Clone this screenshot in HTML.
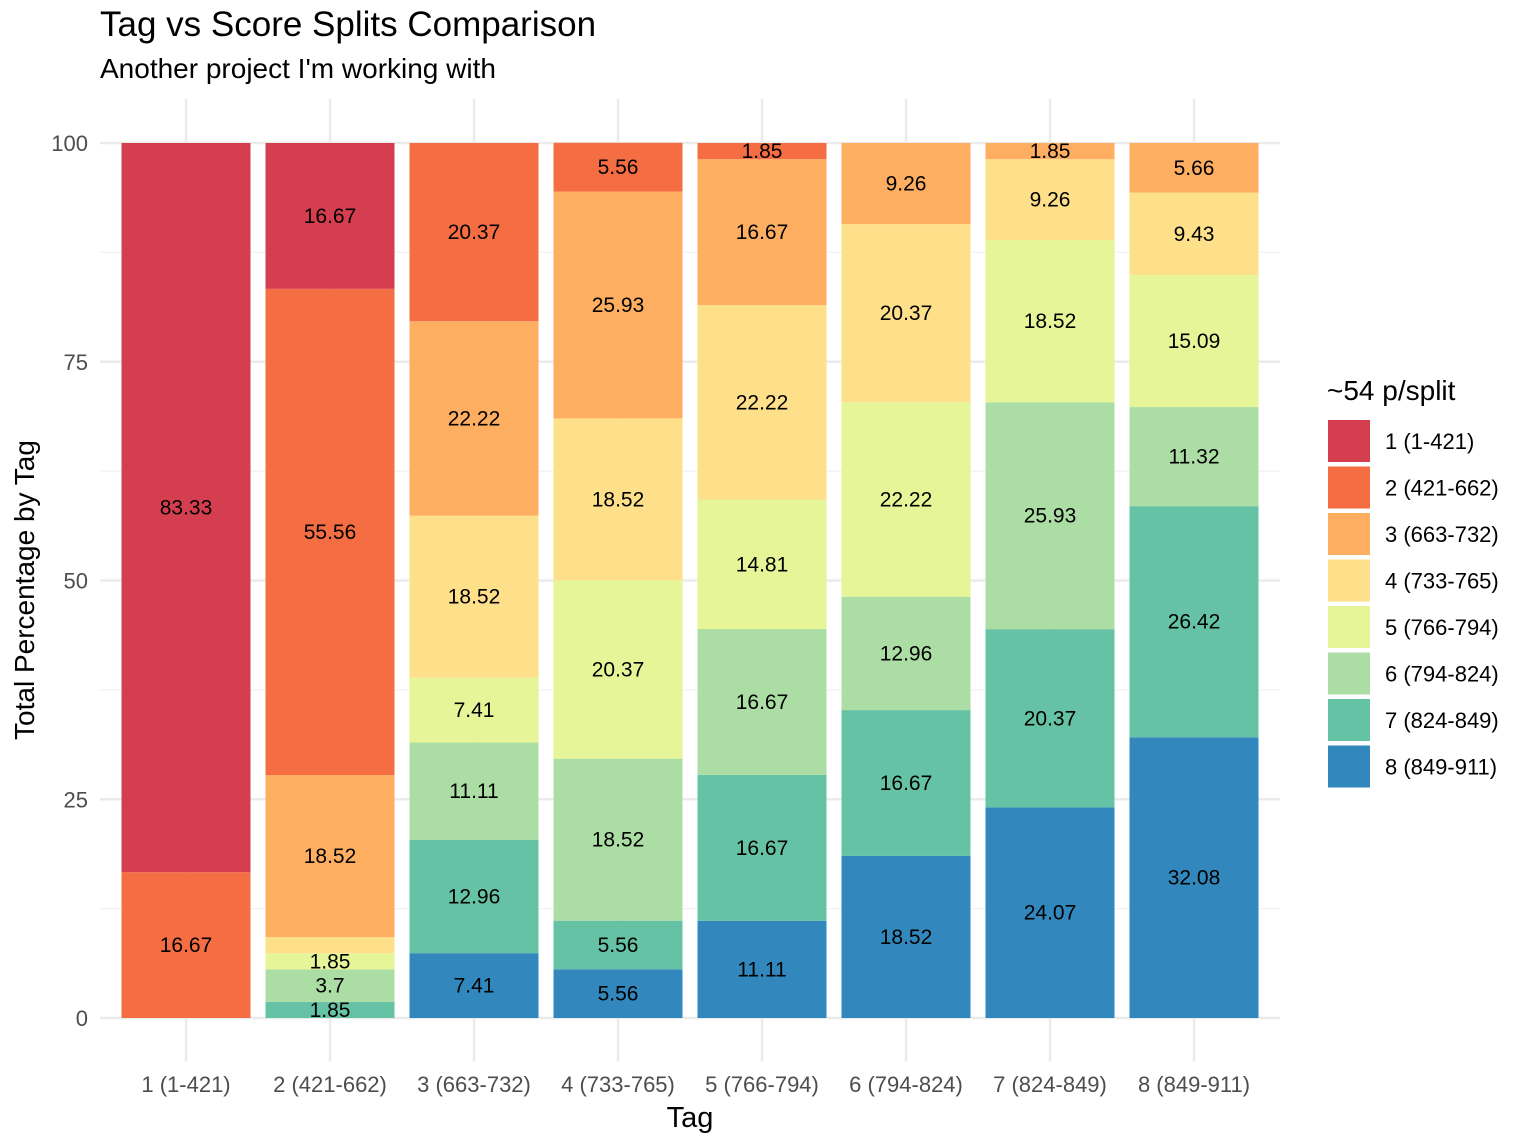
<!DOCTYPE html>
<html><head><meta charset="utf-8"><style>
body{margin:0;background:#fff;}
svg{display:block;font-family:"Liberation Sans",Arial,sans-serif;}
</style></head><body>
<svg id="c" width="1522" height="1142" xmlns="http://www.w3.org/2000/svg">
<text x="100" y="36" font-size="35" fill="#000">Tag vs Score Splits Comparison</text>
<text x="100" y="78" font-size="28" fill="#000">Another project I'm working with</text>
<g id="grid"></g><g id="bars"></g><g id="labels"></g><g id="axes"></g><g id="legend"></g>
<text x="690" y="1127" font-size="29" text-anchor="middle">Tag</text>
<text transform="translate(34,590) rotate(-90)" font-size="28" text-anchor="middle">Total Percentage by Tag</text>
</svg>
<script>
const tags=["1 (1-421)","2 (421-662)","3 (663-732)","4 (733-765)","5 (766-794)","6 (794-824)","7 (824-849)","8 (849-911)"];
const splits=["1 (1-421)","2 (421-662)","3 (663-732)","4 (733-765)","5 (766-794)","6 (794-824)","7 (824-849)","8 (849-911)"];
const colors=["#D53E4F","#F46D43","#FDAE61","#FEE08B","#E6F598","#ABDDA4","#66C2A5","#3288BD"];
const vals=[
[83.33,16.67,0,0,0,0,0,0],
[16.67,55.56,18.52,1.85,1.85,3.7,1.85,0],
[0,20.37,22.22,18.52,7.41,11.11,12.96,7.41],
[0,5.56,25.93,18.52,20.37,18.52,5.56,5.56],
[0,1.85,16.67,22.22,14.81,16.67,16.67,11.11],
[0,0,9.26,20.37,22.22,12.96,16.67,18.52],
[0,0,1.85,9.26,18.52,25.93,20.37,24.07],
[0,0,5.66,9.43,15.09,11.32,26.42,32.08]];
const yTicks=[0,25,50,75,100];
const NS="http://www.w3.org/2000/svg";
const y=v=>1018-v*8.75;
const x=i=>186+i*144;
const bw=129;
function mk(t,a,p){const e=document.createElementNS(NS,t);for(const k in a)e.setAttribute(k,a[k]);p.appendChild(e);return e;}
const grid=document.getElementById('grid'),bars=document.getElementById('bars'),labels=document.getElementById('labels'),axes=document.getElementById('axes'),legend=document.getElementById('legend');
for(let v=12.5;v<100;v+=25){const l=mk('line',{x1:100,x2:1280,y1:y(v),y2:y(v),stroke:'#f2f2f2','stroke-width':1.2},grid);

}
yTicks.forEach(v=>{const l=mk('line',{x1:100,x2:1280,y1:y(v),y2:y(v),stroke:'#ebebeb','stroke-width':2.4},grid);


const t=mk('text',{x:88,y:y(v)+8,'font-size':22,fill:'#4d4d4d','text-anchor':'end'},axes);t.textContent=v;

});
tags.forEach((tg,i)=>{const l=mk('line',{x1:x(i),x2:x(i),y1:y(105),y2:y(-5),stroke:'#ebebeb','stroke-width':2.4},grid);


const t=mk('text',{x:x(i),y:1092,'font-size':22,fill:'#4d4d4d','text-anchor':'middle'},axes);t.textContent=tg;


let cum=0,lastY=1e9;
for(let s=7;s>=0;s--){const v=vals[i][s];if(v<=0)continue;
const r=mk('rect',{x:x(i)-bw/2,y:y(cum+v),width:bw,height:v*8.75,fill:colors[s]},bars);


const ly=y(cum+v/2)+7;
if(lastY-ly>=20){
const lb=mk('text',{x:x(i),y:ly,'font-size':21,fill:'#000','text-anchor':'middle'},labels);lb.textContent=v;


lastY=ly;}
cum+=v;}});
const lt=mk('text',{x:1327,y:400,'font-size':28},legend);lt.textContent='~54 p/split';


splits.forEach((s,k)=>{const yy=420+k*46.5;
const r=mk('rect',{x:1328,y:yy,width:42,height:42,fill:colors[k]},legend);


const t=mk('text',{x:1385,y:yy+29,'font-size':22},legend);t.textContent=s;

});
</script>
</body></html>
